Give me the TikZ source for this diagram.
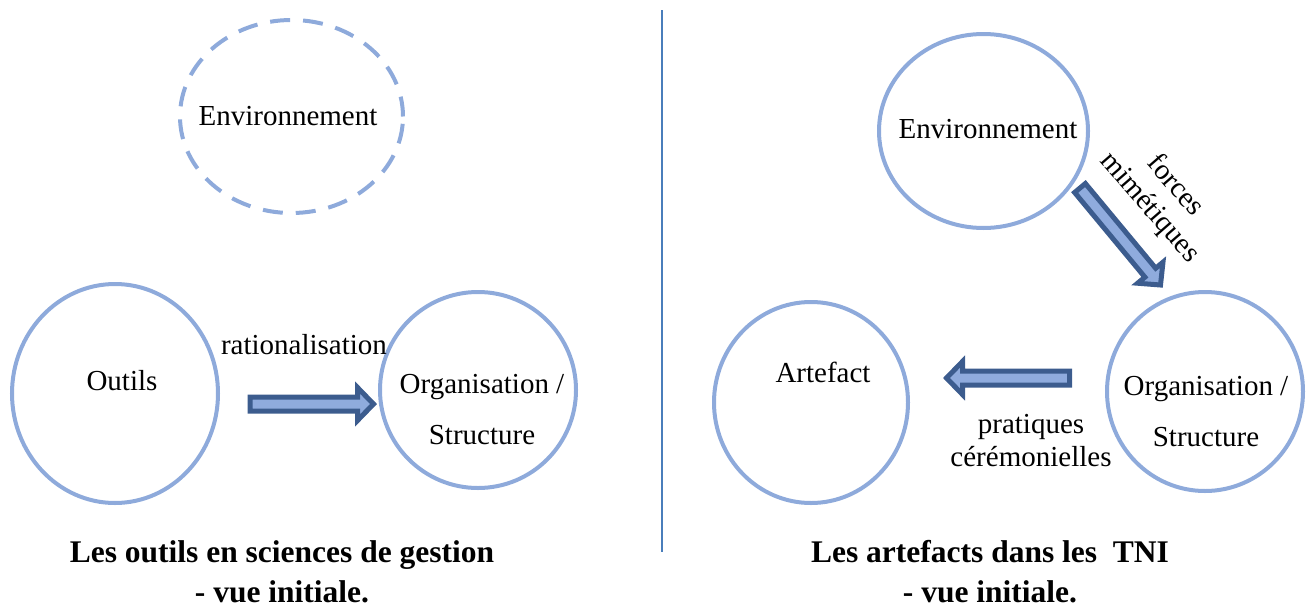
\documentclass[tikz,border=0pt]{standalone}
\usepackage{fontspec}
\setmainfont{Liberation Serif}
\usetikzlibrary{calc,shapes.geometric}
\definecolor{ring}{RGB}{142,170,219}
\definecolor{arrfill}{RGB}{143,171,221}
\definecolor{arrline}{RGB}{60,92,142}
\definecolor{sep}{RGB}{74,126,187}
\newcommand\fatarrow[2]{%
  \coordinate (#1-h) at ($(#2)!16pt!(#1)$);
  \draw[fatarr] ($(#1)!7pt!90:(#2)$) -- ($(#1-h)!7pt!90:(#2)$) -- ($(#1-h)!16.5pt!90:(#2)$)
    -- (#2) -- ($(#1-h)!16.5pt!-90:(#2)$) -- ($(#1-h)!7pt!-90:(#2)$) -- ($(#1)!7pt!-90:(#2)$) -- cycle;}
\begin{document}
\begin{tikzpicture}[x=1pt,y=-1pt,
  ringnode/.style={ellipse, draw=ring, line width=4pt, inner sep=0pt},
  dashring/.style={ringnode, dash pattern=on 20pt off 13pt},
  lbl/.style={font=\fontsize{29}{35}\selectfont, inner sep=0pt, align=center},
  ttl/.style={font=\fontsize{31.5}{40}\selectfont\bfseries, inner sep=0pt, align=center},
  fatarr/.style={draw=arrline, fill=arrfill, line width=5pt, line join=miter},
  sepline/.style={draw=sep, line width=2pt}]
\useasboundingbox (0,0) rectangle (1309,608);

% left panel
\node[dashring, minimum width=223pt, minimum height=193pt] (envL) at (291.5,116.5) {};
\node[ringnode, minimum width=206pt, minimum height=219pt] (outils) at (115,393.5) {};
\node[ringnode, minimum width=196pt, minimum height=196pt] (orgL) at (478,390) {};
\node[lbl] (tenvL) at (288,116) {Environnement};
\node[lbl] (toutils) at (122,381) {Outils};
\node[lbl, font=\fontsize{29}{51}\selectfont] (torgL) at (482,410) {Organisation /\\Structure};
\node[lbl] (trat) at (304,345) {rationalisation};
\coordinate (aLs) at (250,404);
\coordinate (aLe) at (373.5,404);
\fatarrow{aLs}{aLe}
\node[ttl] (ttlL) at (282,572) {Les outils en sciences de gestion\\- vue initiale.};

% separator
\coordinate (vt) at (662,10);
\coordinate (vb) at (662,552);
\draw[sepline] (vt) -- (vb);

% right panel
\node[ringnode, minimum width=209pt, minimum height=194pt] (envR) at (983.5,131) {};
\node[ringnode, minimum width=194pt, minimum height=201pt] (art) at (811,402.5) {};
\node[ringnode, minimum width=196pt, minimum height=199pt] (orgR) at (1205,391.5) {};
\node[lbl] (tenvR) at (988,129) {Environnement};
\node[lbl] (tart) at (823,372) {Artefact};
\node[lbl, font=\fontsize{29}{51}\selectfont] (torgR) at (1206,412) {Organisation /\\Structure};
\node[lbl, font=\fontsize{29}{33}\selectfont] (tprat) at (1031,441) {pratiques\\cérémonielles};
\node[lbl, font=\fontsize{29}{33.5}\selectfont, rotate=-49] (tforce) at (1162,197) {forces\\mimétiques};
\coordinate (aRs) at (1069.5,378);
\coordinate (aRe) at (946.5,378);
\fatarrow{aRs}{aRe}
\coordinate (aDs) at (1080,188);
\coordinate (aDe) at (1160.5,285);
\fatarrow{aDs}{aDe}
\node[ttl] (ttlR) at (990,572) {Les artefacts dans les \ TNI\\- vue initiale.};
\end{tikzpicture}
\end{document}
